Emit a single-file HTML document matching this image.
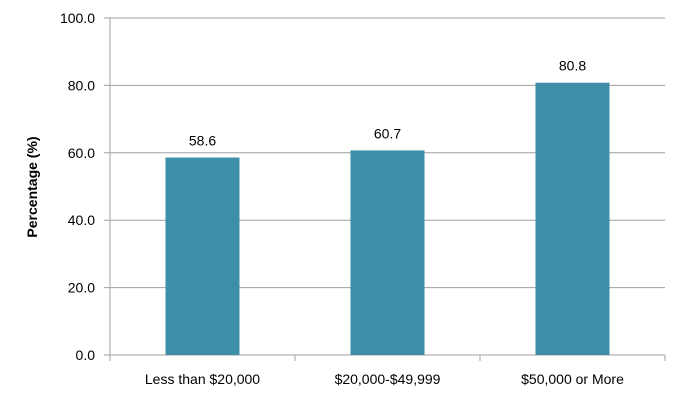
<!DOCTYPE html>
<html><head><meta charset="utf-8"><style>
body{margin:0;background:#fff;}
svg text{font-family:"Liberation Sans",sans-serif;font-size:14px;fill:#000;}
</style></head><body>
<svg width="681" height="408" id="chart">
<text transform="translate(37,187) rotate(-90)" text-anchor="middle" font-weight="bold" style="font-size:14px">Percentage (%)</text>
</svg>
<script>
const categories=["Less than $20,000","$20,000-$49,999","$50,000 or More"];
const values=[58.6,60.7,80.8];
const ticks=[0,20,40,60,80,100];
const svg=document.getElementById('chart');
const NS='http://www.w3.org/2000/svg';
const L=110,R=665,T=18,B=355;
const y=v=>B-(v/100)*(B-T);
const bw=(R-L)/categories.length;
function mk(t,a){const e=document.createElementNS(NS,t);for(const k in a)e.setAttribute(k,a[k]);svg.appendChild(e);return e;}
ticks.forEach(t=>{
 const g=mk('line',{x1:L-6,x2:R,y1:y(t),y2:y(t),stroke:t===0?'#a0a0a0':'#a0a0a0','stroke-width':1});
 
 
 const tx=mk('text',{x:95,y:y(t)+5,'text-anchor':'end'});tx.textContent=t.toFixed(1);
 
 
});
const ax=mk('line',{x1:L,x2:L,y1:T,y2:B+6,stroke:'#a0a0a0'});


for(let i=1;i<=categories.length;i++){const tk=mk('line',{x1:L+i*bw,x2:L+i*bw,y1:B,y2:B+6,stroke:'#a0a0a0'});
 
 }
categories.forEach((c,i)=>{
 const cx=L+bw*(i+0.5);
 const r=mk('rect',{x:cx-37,y:y(values[i]),width:74,height:B-y(values[i]),fill:'#3d8ea6'});
 
 
 const v=mk('text',{x:cx,y:y(values[i])-12,'text-anchor':'middle'});v.textContent=values[i].toFixed(1);
 
 
 const l=mk('text',{x:cx,y:B+29,'text-anchor':'middle'});l.textContent=c;
 
 
});
</script>
</body></html>
